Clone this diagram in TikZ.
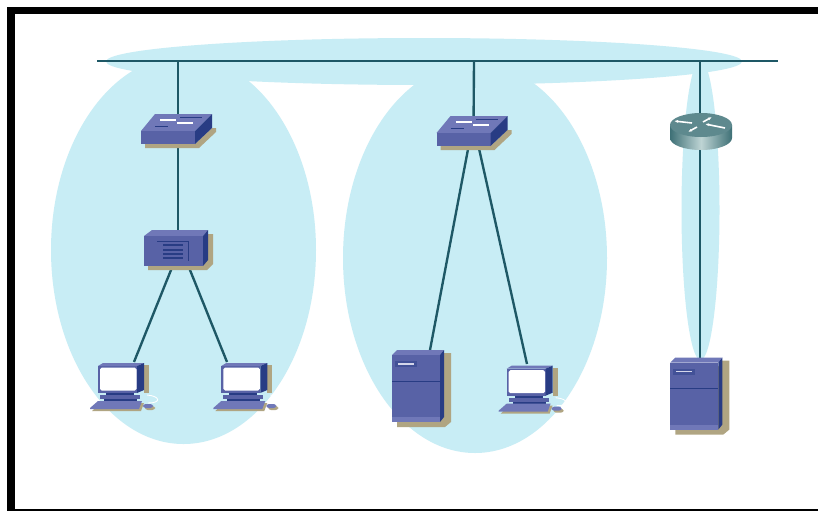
\documentclass[tikz,border=0pt]{standalone}
\usepackage{tikz}
\usetikzlibrary{arrows.meta}
\definecolor{halo}{RGB}{200,237,245}
\definecolor{wire}{RGB}{30,88,102}
\definecolor{front}{RGB}{88,98,166}
\definecolor{lid}{RGB}{112,120,184}
\definecolor{side}{RGB}{40,60,132}
\definecolor{tan}{RGB}{176,165,130}
\definecolor{routerd}{RGB}{62,112,118}
\definecolor{routerl}{RGB}{190,212,212}
\tikzset{
  link/.style={draw=wire,line width=1.35pt},
  halozone/.style={fill=halo},
  switchicon/.pic={
    \fill[tan] (-33,19) -- (-33,15) -- (17,15) -- (34,-1) -- (38,-1) -- (38,3) -- (21,19) -- cycle;
    \fill[lid] (-37,2) -- (-23,-15) -- (34,-15) -- (17,2) -- cycle;
    \fill[front] (-37,2) rectangle (17,15);
    \fill[side] (17,2) -- (34,-15) -- (34,-1) -- (17,15) -- cycle;
    \draw[white,line width=.7pt] (-18,-9) -- (-2,-9) (-1,-6) -- (15,-6);
    \draw[side,line width=.5pt] (2,-12) -- (24,-12) (-23,-3) -- (-10,-3);
  },
  hubicon/.pic={
    \fill[tan] (30,-14) -- (35,-14) -- (35,16) -- (29,22) -- (-30,22) -- (-30,18) -- cycle;
    \fill[lid] (-34,-12) -- (-26,-18) -- (30,-18) -- (25,-12) -- cycle;
    \fill[front] (-34,-12) rectangle (25,18);
    \fill[side] (25,-12) -- (30,-18) -- (30,12) -- (25,18) -- cycle;
    \draw[side,line width=.4pt] (-21,-7) -- (10,-7) -- (10,13);
    \draw[side,line width=.9pt] (-15,-3) -- (5,-3) (-15,2) -- (5,2) (-15,6) -- (5,6) (-15,10) -- (5,10);
  },
  pcicon/.pic={
    \fill[tan] (24,-20) rectangle (29,8);
    \fill[tan] (-28,26) -- (-20,18) -- (24,18) -- (21,26) -- cycle;
    \fill[lid] (-22,-19) -- (-17,-22) -- (24,-22) -- (17,-19) -- cycle;
    \fill[front] (-22,-19) rectangle (17,8);
    \fill[side] (17,-19) -- (24,-22) -- (24,5) -- (17,8) -- cycle;
    \fill[white,rounded corners=1pt] (-20,-17.5) rectangle (16.5,5.5);
    \fill[side] (-14,8) rectangle (14,10);
    \fill[front] (-20,10) rectangle (20,14);
    \fill[side] (-16,14) rectangle (17,16);
    \fill[lid] (-30,23) -- (-22,16) -- (22,16) -- (19,24) -- (-30,24) -- cycle;
    \draw[white,line width=.5pt] (27,10) .. controls (40,11) and (42,18) .. (28,18);
    \fill[tan,rounded corners=1.5pt] (25,21) rectangle (35,25);
    \fill[lid,rounded corners=1.5pt] (23,19) rectangle (33,23);
  },
  servericon/.pic={
    \fill[tan] (28,-32) -- (35,-32) -- (35,37) -- (29,42) -- (-19,42) -- (-19,37) -- cycle;
    \fill[lid] (-24,-30) -- (-19,-35) -- (28,-35) -- (24,-30) -- cycle;
    \fill[front] (-24,-30) rectangle (24,37);
    \fill[side] (24,-30) -- (28,-35) -- (28,32) -- (24,37) -- cycle;
    \fill[side!45!front] (-21,-24) rectangle (1,-18);
    \fill[white!70!lid] (-18,-22) rectangle (-2,-20.5);
    \draw[side,line width=.4pt] (-24,-4) -- (24,-4);
    \fill[lid] (-24,32) rectangle (24,37);
  },
  routericon/.pic={
    \path[left color=routerd,right color=routerd,middle color=routerl] (-31,0) -- (-31,13) arc [start angle=180,end angle=0,x radius=31,y radius=12] -- (31,0) -- cycle;
    \fill[routerd!75!routerl] (0,0) ellipse [x radius=31,y radius=12];
    \draw[-{Latex[length=2.2pt]},white,line width=.9pt] (-9,-2) -- (-27,-4);
    \draw[-{Latex[length=2.2pt]},white,line width=.9pt] (2,-3) -- (11,-8);
    \draw[-{Latex[length=2.2pt]},white,line width=.9pt] (24,3) -- (4,-1);
    \draw[-{Latex[length=2.2pt]},white,line width=.9pt] (-4,2) -- (-13,7);
  }}
\begin{document}
\begin{tikzpicture}[x=.02cm,y=-.02cm]
\useasboundingbox (0,0) rectangle (818,511);
% frame, open on the right
\fill[black] (7,7) rectangle (818,511);
\fill[white] (15,14) rectangle (818,509);
% broadcast zones
\fill[halozone] (183.5,250) ellipse [x radius=132.5,y radius=194];
\fill[halozone] (475,258) ellipse [x radius=132,y radius=195];
\fill[halozone] (424,61.5) ellipse [x radius=318,y radius=23.5];
\fill[halozone] (700.5,210) ellipse [x radius=19,y radius=150];
% link ends
\coordinate (busl) at (97,61);
\coordinate (busr) at (778,61);
\coordinate (tapa) at (178,61);
\coordinate (tapb) at (474,61);
\coordinate (tapc) at (700,61);
\coordinate (swa) at (178,129);
\coordinate (hub) at (178,248);
\coordinate (huba) at (173,265);
\coordinate (hubb) at (188,265);
\coordinate (swb) at (473.5,131);
\coordinate (swba) at (469,144);
\coordinate (swbb) at (478,144);
\coordinate (pca) at (120,385);
\coordinate (pcat) at (134,362);
\coordinate (pcb) at (243.3,385);
\coordinate (pcbt) at (227,362);
\coordinate (srva) at (416,385);
\coordinate (srvat) at (430,350);
\coordinate (pcc) at (528.6,387.7);
\coordinate (pcct) at (527,364);
\coordinate (rtr) at (701,125);
\coordinate (srvb) at (694.4,392.5);
\coordinate (srvbt) at (700,358);
\draw[link] (busl) -- (busr);
\draw[link] (tapa) -- (swa); \draw[link] (swa) -- (hub);
\draw[link] (huba) -- (pcat); \draw[link] (hubb) -- (pcbt);
\draw[link] (tapb) -- (swb);
\draw[link] (swba) -- (srvat); \draw[link] (swbb) -- (pcct);
\draw[link] (tapc) -- (srvbt);
\pic at (swa) {switchicon};
\pic at (swb) {switchicon};
\pic at (hub) {hubicon};
\pic at (pca) {pcicon};
\pic at (pcb) {pcicon};
\pic at (pcc) {pcicon};
\pic at (srva) {servericon};
\pic at (srvb) {servericon};
\pic at (rtr) {routericon};
\end{tikzpicture}
\end{document}
